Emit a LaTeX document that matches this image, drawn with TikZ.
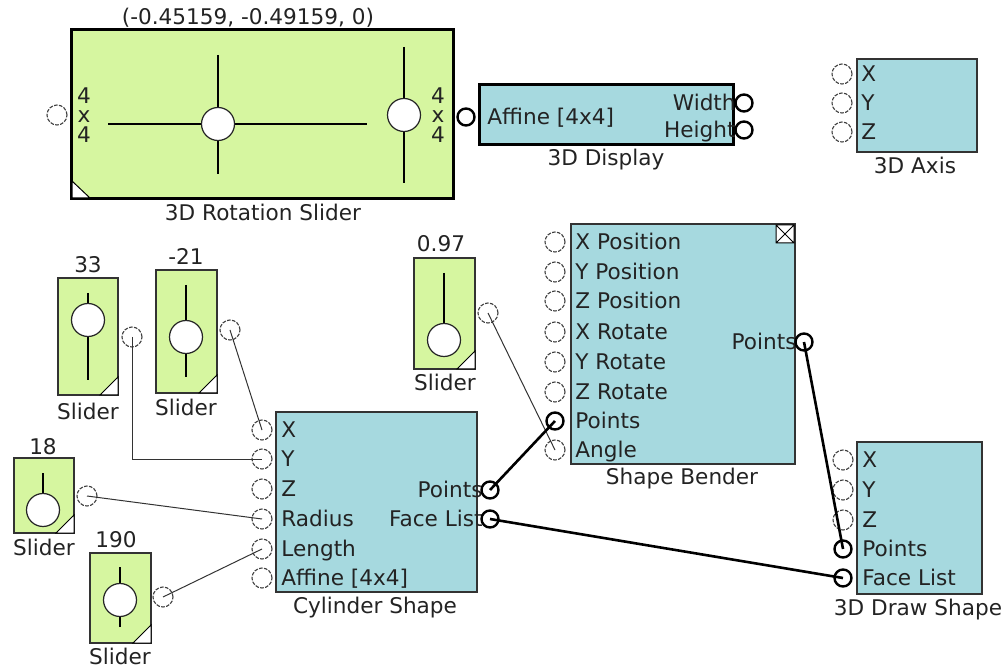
\documentclass[tikz,border=0pt]{standalone}
\usepackage{fontspec}
\setmainfont{DejaVu Sans}
\definecolor{sliderg}{RGB}{214,246,160}
\definecolor{blockc}{RGB}{166,217,223}
\definecolor{txt}{RGB}{35,35,35}

\tikzset{
  port/.style={circle, draw=black!75, fill=white, line width=0.55pt, dash pattern=on 1.8pt off 0.7pt, minimum size=10pt, inner sep=0pt},
  cport/.style={circle, draw=black, fill=white, line width=1.2pt, minimum size=8.5pt, inner sep=0pt},
  knob/.style={circle, draw=black!85, fill=white, line width=0.6pt, minimum size=16.5pt, inner sep=0pt},
  lbl/.style={font=\fontsize{10.8}{12}\selectfont, text=txt, inner sep=0pt, text height=8.2pt, text depth=0.4pt},
  plbl/.style={lbl, anchor=west},
  wire/.style={line width=0.5pt, black!80},
  bus/.style={line width=1.3pt, black},
}

\begin{document}
\begin{tikzpicture}[x=0.5pt, y=-0.5pt]
    \useasboundingbox (0,0) rectangle (1005,667);

    % --- 3D Rotation Slider ---
    \draw[fill=sliderg, line width=1.5pt] (71,30) rectangle (453,199);
    \draw[fill=white, line width=0.5pt] (72,181) -- (90,198) -- (72,198) -- cycle;
    \draw[line width=0.75pt] (108,124) -- (367,124) (218,55) -- (218,174) (404,47) -- (404,183);
    \node[knob] (rotk1) at (218,124) {};
    \node[knob] (rotk2) at (404,115) {};
    \node[lbl] (rotl1) at (84,96) {4};
    \node[lbl] (rotl2) at (84,115) {x};
    \node[lbl] (rotl3) at (84,135) {4};
    \node[lbl] (rotr1) at (438,96) {4};
    \node[lbl] (rotr2) at (438,115) {x};
    \node[lbl] (rotr3) at (438,135) {4};
    \node[port] (rotin) at (57,115) {};
    \node[lbl] (rotv) at (248,17) {(-0.45159, -0.49159, 0)};
    \node[lbl] (rotn) at (263,213) {3D Rotation Slider};

    % --- 3D Display ---
    \draw[fill=blockc, line width=1.5pt] (479,85) rectangle (733,145);
    \node[cport] (dispin) at (466,117) {};
    \node[plbl] (dispa) at (487,117) {Affine [4x4]};
    \node[lbl, anchor=east] (dispw) at (736,103) {Width};
    \node[lbl, anchor=east] (disph) at (736,130) {Height};
    \node[cport] (dispwp) at (744,103) {};
    \node[cport] (disphp) at (744,130) {};
    \node[lbl] (dispn) at (606,158) {3D Display};

    % --- 3D Axis ---
    \draw[fill=blockc, draw=black!80, line width=0.75pt] (857,59) rectangle (977,152);
    \node[port] (axisx) at (842,74) {};
    \node[port] (axisy) at (842,103) {};
    \node[port] (axisz) at (842,132) {};
    \node[plbl] (axisxl) at (861,74) {X};
    \node[plbl] (axisyl) at (861,103) {Y};
    \node[plbl] (axiszl) at (861,132) {Z};
    \node[lbl] (axisn) at (915,166) {3D Axis};

    % --- Slider 33 ---
    \draw[fill=sliderg, draw=black!80, line width=0.75pt] (58,278) rectangle (118,395);
    \draw[fill=white, line width=0.5pt] (100,395) -- (118,377) -- (118,395) -- cycle;
    \draw[line width=0.75pt] (88,293) -- (88,380);
    \node[knob] (s33k) at (88,320) {};
    \node[port] (s33p) at (132,337) {};
    \node[lbl] (s33v) at (88,265) {33};
    \node[lbl] (s33n) at (88,412) {Slider};

    % --- Slider -21 ---
    \draw[fill=sliderg, draw=black!80, line width=0.75pt] (156,270) rectangle (217,393);
    \draw[fill=white, line width=0.5pt] (199,393) -- (217,375) -- (217,393) -- cycle;
    \draw[line width=0.75pt] (186,285) -- (186,377);
    \node[knob] (s21k) at (186,337) {};
    \node[port] (s21p) at (230,330) {};
    \node[lbl] (s21v) at (186,257) {-21};
    \node[lbl] (s21n) at (186,408) {Slider};

    % --- Slider 0.97 ---
    \draw[fill=sliderg, draw=black!80, line width=0.75pt] (414,258) rectangle (475,369);
    \draw[fill=white, line width=0.5pt] (457,369) -- (475,351) -- (475,369) -- cycle;
    \draw[line width=0.75pt] (444,273) -- (444,330);
    \node[knob] (s97k) at (444,340) {};
    \node[port] (s97p) at (488,313) {};
    \node[lbl] (s97v) at (441,244) {0.97};
    \node[lbl] (s97n) at (445,383) {Slider};

    % --- Slider 18 ---
    \draw[fill=sliderg, draw=black!80, line width=0.75pt] (14,458) rectangle (74,533);
    \draw[fill=white, line width=0.5pt] (56,533) -- (74,515) -- (74,533) -- cycle;
    \draw[line width=0.75pt] (43,473) -- (43,500);
    \node[knob] (s18k) at (43,510) {};
    \node[port] (s18p) at (87,496) {};
    \node[lbl] (s18v) at (43,447) {18};
    \node[lbl] (s18n) at (44,548) {Slider};

    % --- Slider 190 ---
    \draw[fill=sliderg, draw=black!80, line width=0.75pt] (90,553) rectangle (151,643);
    \draw[fill=white, line width=0.5pt] (133,643) -- (151,625) -- (151,643) -- cycle;
    \draw[line width=0.75pt] (120,567) -- (120,627);
    \node[knob] (s190k) at (120,600) {};
    \node[port] (s190p) at (163,597) {};
    \node[lbl] (s190v) at (116,540) {190};
    \node[lbl] (s190n) at (120,657) {Slider};

    % --- Shape Bender ---
    \draw[fill=blockc, draw=black!80, line width=0.75pt] (571,224) rectangle (795,464);
    \draw[fill=white, line width=0.5pt] (776,225) rectangle (794,243) (776,225) -- (794,243) (776,243) -- (794,225);
    \node[port] (bendxp) at (555,242) {};
    \node[port] (bendyp) at (555,272) {};
    \node[port] (bendzp) at (555,301) {};
    \node[port] (bendxr) at (555,332) {};
    \node[port] (bendyr) at (555,362) {};
    \node[port] (bendzr) at (555,392) {};
    \node[cport] (bendpt) at (555,421) {};
    \node[port] (bendan) at (555,450) {};
    \node[plbl] at (575,242) {X Position};
    \node[plbl] at (575,272) {Y Position};
    \node[plbl] at (575,301) {Z Position};
    \node[plbl] at (575,332) {X Rotate};
    \node[plbl] at (575,362) {Y Rotate};
    \node[plbl] at (575,392) {Z Rotate};
    \node[plbl] at (575,421) {Points};
    \node[plbl] at (575,450) {Angle};
    \node[lbl, anchor=east] (bendol) at (797,342) {Points};
    \node[cport] (bendout) at (804,342) {};
    \node[lbl] (bendn) at (682,477) {Shape Bender};

    % --- Cylinder Shape ---
    \draw[fill=blockc, draw=black!80, line width=0.75pt] (276,412) rectangle (477,592);
    \node[port] (cylx) at (262,430) {};
    \node[port] (cyly) at (262,459) {};
    \node[port] (cylz) at (262,489) {};
    \node[port] (cylr) at (262,519) {};
    \node[port] (cyll) at (262,549) {};
    \node[port] (cyla) at (262,578) {};
    \node[plbl] at (281,430) {X};
    \node[plbl] at (281,459) {Y};
    \node[plbl] at (281,489) {Z};
    \node[plbl] at (281,519) {Radius};
    \node[plbl] at (281,549) {Length};
    \node[plbl] at (281,578) {Affine [4x4]};
    \node[lbl, anchor=east] (cylpl) at (483,490) {Points};
    \node[lbl, anchor=east] (cylfl) at (483,519) {Face List};
    \node[cport] (cylpt) at (490,490) {};
    \node[cport] (cylfc) at (490,519) {};
    \node[lbl] (cyln) at (375,606) {Cylinder Shape};

    % --- 3D Draw Shape ---
    \draw[fill=blockc, draw=black!80, line width=0.75pt] (857,442) rectangle (982,594);
    \node[port] (drwx) at (843,460) {};
    \node[port] (drwy) at (843,490) {};
    \node[port] (drwz) at (843,520) {};
    \node[cport] (drwpt) at (843,549) {};
    \node[cport] (drwfc) at (843,578) {};
    \node[plbl] at (862,460) {X};
    \node[plbl] at (862,490) {Y};
    \node[plbl] at (862,520) {Z};
    \node[plbl] at (862,549) {Points};
    \node[plbl] at (862,578) {Face List};
    \node[lbl] (drwn) at (918,608) {3D Draw Shape};

    % --- wires ---
    \draw[wire] (s33p.center) |- (cyly.center);
    \draw[wire] (s21p.center) -- (cylx.center);
    \draw[wire] (s18p.center) -- (cylr.center);
    \draw[wire] (s190p.center) -- (cyll.center);
    \draw[wire] (s97p.center) -- (bendan.center);
    \draw[bus] (cylpt.center) -- (bendpt.center);
    \draw[bus] (cylfc.center) -- (drwfc.center);
    \draw[bus] (bendout.center) -- (drwpt.center);
\end{tikzpicture}
\end{document}
